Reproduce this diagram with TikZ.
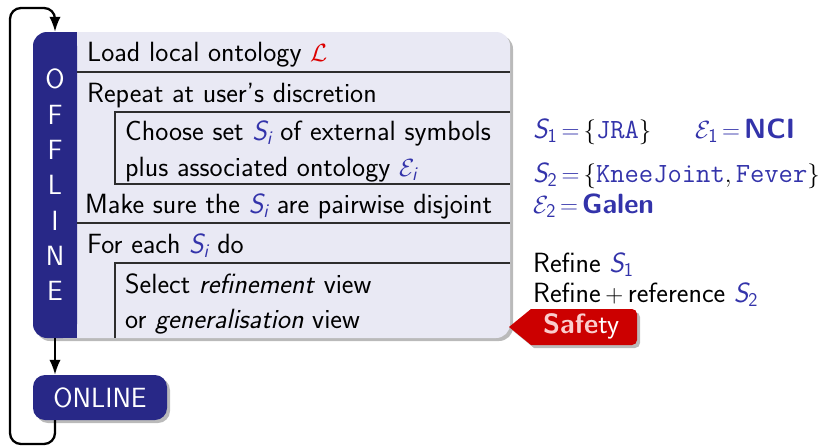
\documentclass[tikz,border=0pt]{standalone}
\usepackage{fontspec}
\usepackage{amsmath}
\usetikzlibrary{arrows.meta,shadows}
\renewcommand{\familydefault}{\sfdefault}

\definecolor{barblue}{RGB}{40,40,135}
\definecolor{mathblue}{RGB}{51,51,170}
\definecolor{panelfill}{RGB}{233,233,244}
\definecolor{tagred}{RGB}{204,0,0}
\definecolor{alertred}{RGB}{220,0,0}
\definecolor{rulegray}{RGB}{45,45,45}
\definecolor{pinkwhite}{RGB}{250,205,205}

% italic sans letters inside math
\newcommand{\isf}[1]{\text{\sffamily\itshape #1}}
\newcommand{\Si}{\textcolor{mathblue}{$\isf{S}_{\isf{i}}$}}
\newcommand{\Ei}{\textcolor{mathblue}{$\mathcal{E}_{\isf{i}}$}}
\newcommand{\Sn}[1]{\textcolor{mathblue}{$\isf{S}_{\textsf{#1}}$}}
\newcommand{\beq}{\mathrel{\color{mathblue}=}}

\begin{document}
\begin{tikzpicture}[x=1pt,y=-1pt,
  font=\fontsize{27.8}{33}\selectfont,
  txt/.style={anchor=base west, inner sep=0pt},
  rulel/.style={draw=rulegray, line width=1.4pt},
  conn/.style={line width=2.3pt, -{Latex[length=15pt,width=11.5pt]}},
  shadowed/.style={drop shadow={shadow xshift=3pt,shadow yshift=-3pt,opacity=.45,fill=black!60}},
  stage/.style={fill=barblue, text=white, inner sep=0pt},
  eqs/.style={txt, execute at begin node={\thickmuskip=3mu plus 1mu}}]
\useasboundingbox (0,0) rectangle (824,447);

% light panel holding the offline steps
\node[shadowed, fill=panelfill, rounded corners=14pt, minimum width=477pt,
      minimum height=306pt, inner sep=0pt] (panel) at (271.5,185) {};

% dark side bar (square on its right side)
\fill[barblue] (60,32) rectangle (77,338);
\node[stage, rounded corners=14pt, minimum width=44pt, minimum height=306pt,
      align=center, font=\fontsize{27.8}{35.3}\selectfont] (bar) at (55,185)
      {O\\F\\F\\L\\I\\N\\E};

% separating rules and the two nested blocks
\draw[rulel] (77,72) -- (510,72);
\draw[rulel] (510,112) -| (115,184) -- (510,184);
\draw[rulel] (77,223) -- (510,223);
\draw[rulel] (510,263) -| (115,338);

% steps
\node[txt] (t1) at (87,61) {Load local ontology \textcolor{alertred}{$\mathcal{L}$}};
\node[txt] (t2) at (87,102) {Repeat at user's discretion};
\node[txt] (t3) at (125,140) {Choose set \Si{} of external symbols};
\node[txt] (t4) at (125,176) {plus associated ontology \Ei};
\node[txt] (t5) at (85,213) {Make sure the \Si{} are pairwise disjoint};
\node[txt] (t6) at (87,253) {For each \Si{} do};
\node[txt] (t7) at (125,293) {Select \textit{refinement} view};
\node[txt] (t8) at (125,328) {or \textit{generalisation} view};

% example on the right
\node[eqs] (r1) at (533,138)
  {${\color{mathblue}\isf{S}_{\textsf{1}}}\beq\{{\color{mathblue}\texttt{JRA}}\}$};
\node[eqs] (r2) at (695,138)
  {${\color{mathblue}\mathcal{E}_{\textsf{1}}}\beq{\color{mathblue}\text{\bfseries NCI}}$};
\node[eqs] (r3) at (533,182)
  {${\color{mathblue}\isf{S}_{\textsf{2}}}\beq\{{\color{mathblue}\texttt{KneeJoint}},{\color{mathblue}\texttt{Fever}}\}$};
\node[eqs] (r4) at (533,213)
  {${\color{mathblue}\mathcal{E}_{\textsf{2}}}\beq{\color{mathblue}\text{\bfseries Galen}}$};
\node[txt] (r5) at (533,272) {Refine \Sn{1}};
\node[txt] (r6) at (533,302) {Refine\,$+$\,reference \Sn{2}};

% safety tag
\fill[tagred, shadowed] (509,327) -- (531,309) [rounded corners=5pt] -- (637,309)
  -- (637,345) [sharp corners] -- (531,345) -- cycle;
\node[txt] (safety) at (543,333) {\textbf{\color{pinkwhite}Safe}\color{white}ty};

% online stage
\node[stage, shadowed, rounded corners=12pt, minimum width=134pt,
      minimum height=45pt] (online) at (100,397.5) {ONLINE};

% flow
\draw[conn] (bar.south) -- (bar.south |- online.north);
\draw[conn, rounded corners=11pt] (online.south -| bar.south) -- (55,444)
  -| (10,8) -| (bar.north);
\end{tikzpicture}
\end{document}
